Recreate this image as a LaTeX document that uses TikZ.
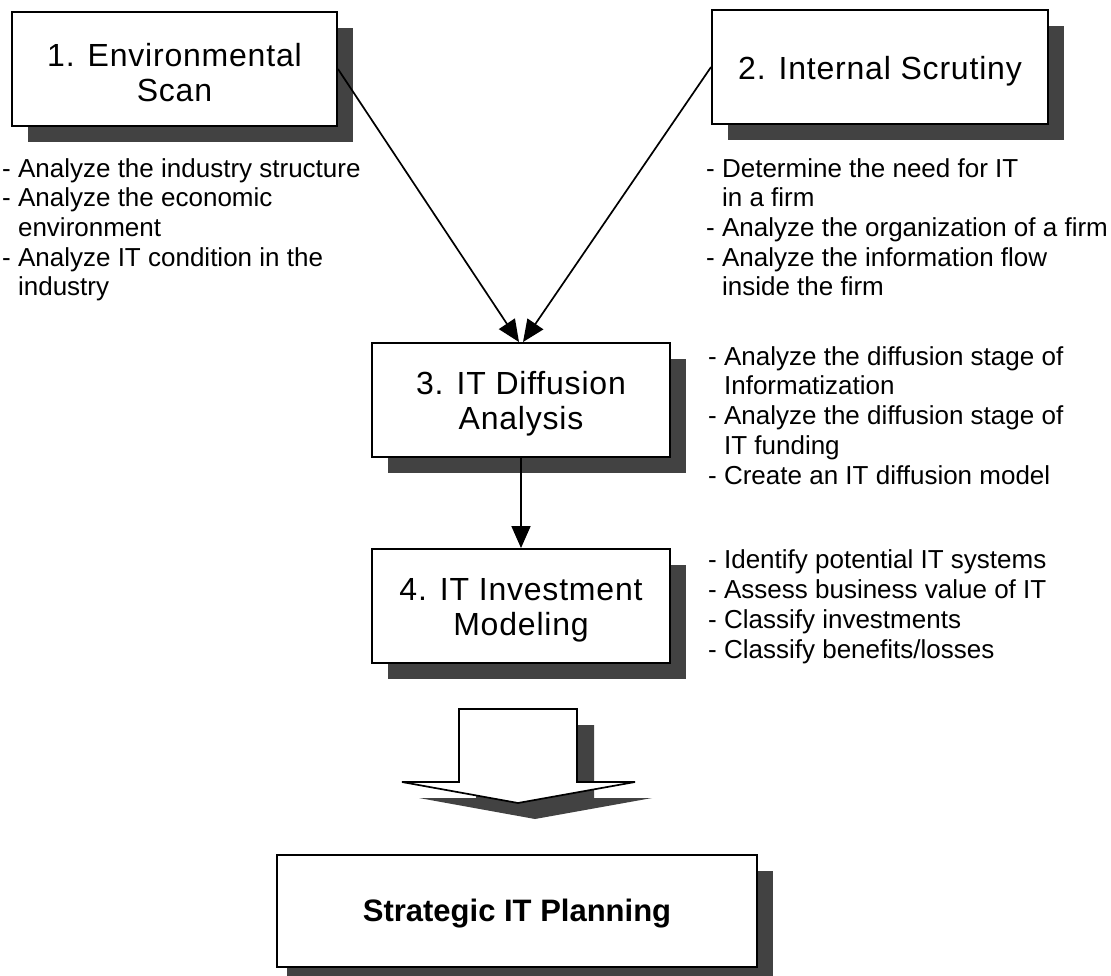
\documentclass[tikz,border=0pt]{standalone}
\usepackage{fontspec}
\setmainfont{Liberation Sans}
\usetikzlibrary{arrows.meta,shadows,calc}

\definecolor{shadowgray}{gray}{0.26}

\begin{document}
\begin{tikzpicture}[x=1pt,y=-1pt,
  stepbox/.style={draw=black, line width=1.9pt, fill=white, inner sep=0pt,
    drop shadow={shadow xshift=16pt, shadow yshift=-16pt, fill=shadowgray, opacity=1}},
  steplabel/.style={align=center, inner sep=0pt,
    font=\fontsize{32}{35}\selectfont\addfontfeature{LetterSpace=2.5}},
  notes/.style={anchor=base west, align=left, inner sep=0pt,
    font=\fontsize{26}{29.7}\selectfont},
  flow/.style={draw=black, line width=1.7pt,
    -{Triangle[length=22pt,width=19pt]}},
]
\useasboundingbox (0,0) rectangle (1111,976);
\clip (0,0) rectangle (1111,976);
\fill[white] (0,0) rectangle (1111,976);

% the four analysis steps
\node[stepbox, minimum width=325pt, minimum height=114pt] (scan) at (174.5,69) {};
\node[stepbox, minimum width=336pt, minimum height=114pt] (scrut) at (880,67) {};
\node[stepbox, minimum width=298pt, minimum height=114pt] (diff) at (521,400) {};
\node[stepbox, minimum width=298pt, minimum height=114pt] (invest) at (521,606) {};

\node[steplabel] (scanlabel) at ($(scan.center)+(0,4)$) {1. Environmental\\Scan};
\node[steplabel] (scrutlabel) at ($(scrut.center)+(0,4)$) {2. Internal Scrutiny};
\node[steplabel] (difflabel) at ($(diff.center)+(0,4)$) {3. IT Diffusion\\Analysis};
\node[steplabel] (investlabel) at ($(invest.center)+(0,4)$) {4. IT Investment\\Modeling};

% activities of each step (each node is placed by the baseline of its last line)
\newcommand{\cont}{\hphantom{- }}
\node[notes] (scannotes) at (2,296) {- Analyze the industry structure\\
  - Analyze the economic\\ \cont environment\\
  - Analyze IT condition in the\\ \cont industry};
\node[notes] (scrutnotes) at (706,296) {- Determine the need for IT\\
  \cont in a firm\\ - Analyze the organization of a firm\\
  - Analyze the information flow\\ \cont inside the firm};
\node[notes] (diffnotes) at (708,484) {- Analyze the diffusion stage of\\
  \cont Informatization\\ - Analyze the diffusion stage of\\
  \cont IT funding\\ - Create an IT diffusion model};
\node[notes] (investnotes) at (708,658) {- Identify potential IT systems\\
  - Assess business value of IT\\ - Classify investments\\
  - Classify benefits/losses};

% connectors between the steps
\draw[flow] (scan.east) -- ($(diff.north)+(-2,0)$);
\draw[flow] (scrut.west) -- ($(diff.north)+(2,0)$);
\draw[flow] (diff.south) -- (invest.north);

% block arrow leading to the result, with its shadow
\begin{scope}[shift={(17,16)}]
  \fill[shadowgray] (459,709) -- (577,709) -- (577,782) -- (635,782)
    -- (518,803) -- (402,782) -- (459,782) -- cycle;
\end{scope}
\draw[line width=1.7pt, fill=white, line join=miter]
  (459,709) -- (577,709) -- (577,782) -- (635,782)
  -- (518,803) -- (402,782) -- (459,782) -- cycle;

% the outcome
\node[stepbox, minimum width=480pt, minimum height=112pt,
  drop shadow={shadow xshift=10pt, shadow yshift=-16pt, fill=shadowgray, opacity=1}]
  (plan) at (517,911) {};
\node[steplabel, font=\fontsize{31}{35}\selectfont\bfseries] (planlabel)
  at ($(plan.center)+(0,3)$) {Strategic IT Planning};
\end{tikzpicture}
\end{document}
